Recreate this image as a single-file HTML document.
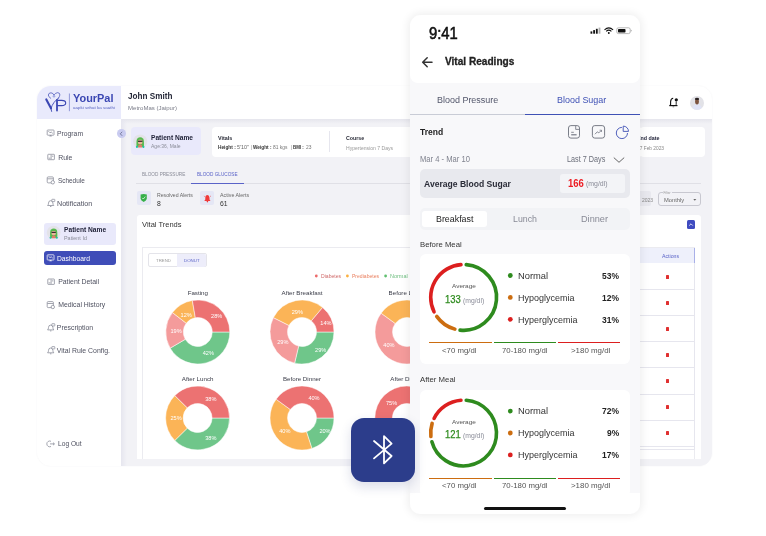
<!DOCTYPE html><html><head><meta charset="utf-8"><style>
*{margin:0;padding:0;box-sizing:border-box}
html,body{width:766px;height:536px;overflow:hidden;background:#fff}
body{position:relative;font-family:"Liberation Sans",sans-serif;-webkit-font-smoothing:antialiased}
.a{position:absolute}
.t{position:absolute;white-space:nowrap;line-height:1}
svg{position:absolute;overflow:visible}
svg text{font-family:"Liberation Sans",sans-serif}
</style></head><body><div id="root" style="position:absolute;left:0;top:0;width:766px;height:536px;will-change:transform">
<div class="a" style="left:37px;top:86px;width:675px;height:380px;background:#fff;border-radius:14px;box-shadow:0 0 2px rgba(40,40,90,.06)"></div>
<div class="a" style="left:121.2px;top:118.6px;width:590.8px;height:347px;background:#f2f2f6;border-bottom-right-radius:13px"></div>
<div class="a" style="left:121.2px;top:118.6px;width:590.8px;height:5px;background:linear-gradient(#e6e6ed,rgba(242,242,246,0))"></div>
<div class="a" style="left:121.2px;top:118.6px;width:6px;height:347px;background:linear-gradient(90deg,#e6e6ef,rgba(242,242,246,0))"></div>
<div class="a" style="left:37px;top:86px;width:84.3px;height:33px;background:#e9eafc;border-top-left-radius:14px"></div>
<svg style="left:0;top:0" width="1" height="1"><g fill="none" stroke="#3b47b3" stroke-linecap="round">
<path d="M46.3 99.4 L51 108.3" stroke-width="2.1"/>
<path d="M51 108.3 Q51.3 110 51.6 111.4" stroke-width="0.9"/>
<path d="M51 108.3 Q52.8 102.2 58.6 98" stroke-width="0.9"/>
<path d="M58.6 98 Q60.8 94.5 59.2 93.2 Q57.6 92 55.6 93.4 Q54.6 94.2 54 95.2 Q53.2 93 51 92.8 Q48.6 92.8 48.3 95 Q48.3 96.8 50.7 98.3" stroke-width="0.7"/>
<path d="M57 100 L57 110.6" stroke-width="1.8"/>
<path d="M57.4 100.4 H61.6 Q65.7 100.4 65.7 103 Q65.7 105.6 61.6 105.6 H57.6" stroke-width="1.1"/>
</g><circle cx="54" cy="96.3" r="1.3" fill="#a3abe4"/>
<line x1="69.4" y1="93.5" x2="69.4" y2="111.2" stroke="#5561c0" stroke-width="0.6"/></svg>
<div class="t" style="left:73.20px;top:92px;font-size:11.6px;color:#3b47b3;font-weight:700;transform:scaleX(0.942);transform-origin:0 0;">YourPal</div>
<div class="t" style="left:73.00px;top:106px;font-size:3.9px;color:#5561c0;font-weight:400;transform:scaleX(1.146);transform-origin:0 0;">aapki sehat ka saathi</div>
<div class="t" style="left:128.30px;top:91px;font-size:9.8px;color:#272a3a;font-weight:700;transform:scaleX(0.834);transform-origin:0 0;">John Smith</div>
<div class="t" style="left:128.30px;top:105px;font-size:6px;color:#7a7c88;font-weight:400;transform:scaleX(1.006);transform-origin:0 0;">MetroMas (Jaipur)</div>
<div class="t" style="left:56.80px;top:131px;font-size:6.9px;color:#4f5160;font-weight:400;transform:scaleX(0.986);transform-origin:0 0;">Program</div>
<svg style="left:0;top:0" width="1" height="1"><rect x="47.2" y="130.0" width="6.8" height="5.2" rx="0.6" fill="none" stroke="#858896" stroke-width="0.75"/><path d="M49.4 136.0 h2.4 M50.6 135.20000000000002 v0.8 M48.4 131.20000000000002 l1.6 1.6 l1.2 -0.8 l1.6 1.4" fill="none" stroke="#858896" stroke-width="0.75"/></svg>
<div class="t" style="left:58.20px;top:155px;font-size:6.9px;color:#4f5160;font-weight:400;">Rule</div>
<svg style="left:0;top:0" width="1" height="1"><rect x="47.8" y="154.3" width="6.6" height="5.4" rx="0.5" fill="none" stroke="#858896" stroke-width="0.75"/><path d="M51.1 154.8 v4.4 M48.6 158.2 h1.8 M52 156.2 h1.4" fill="none" stroke="#858896" stroke-width="0.75"/></svg>
<div class="t" style="left:58.20px;top:178px;font-size:6.9px;color:#4f5160;font-weight:400;transform:scaleX(0.931);transform-origin:0 0;">Schedule</div>
<svg style="left:0;top:0" width="1" height="1"><rect x="47.2" y="176.9" width="6.2" height="6" rx="1" fill="none" stroke="#858896" stroke-width="0.75"/><path d="M47.4 178.79999999999998 h5.8" fill="none" stroke="#858896" stroke-width="0.75"/><circle cx="52.8" cy="182.29999999999998" r="1.7" fill="#fff" stroke="#858896" stroke-width="0.75"/></svg>
<div class="t" style="left:56.80px;top:201px;font-size:6.9px;color:#4f5160;font-weight:400;transform:scaleX(1.032);transform-origin:0 0;">Notification</div>
<svg style="left:0;top:0" width="1" height="1"><path d="M47.6 205.5 Q48.5 204.7 48.5 203.1 Q48.5 200.7 50.7 200.7 Q52.9 200.7 52.9 203.1 Q52.9 204.7 53.8 205.5 Z M50 206.5 h1.4" fill="none" stroke="#858896" stroke-width="0.75"/><rect x="51.8" y="199.3" width="3" height="2.3" rx="0.4" fill="#fff" stroke="#858896" stroke-width="0.7"/></svg>
<div class="t" style="left:58.20px;top:279px;font-size:6.9px;color:#4f5160;font-weight:400;">Patient Detail</div>
<svg style="left:0;top:0" width="1" height="1"><rect x="47.8" y="279.0" width="6.6" height="5.4" rx="0.5" fill="none" stroke="#858896" stroke-width="0.75"/><path d="M51.1 279.5 v4.4 M48.6 282.9 h1.8 M52 280.9 h1.4" fill="none" stroke="#858896" stroke-width="0.75"/></svg>
<div class="t" style="left:58.20px;top:302px;font-size:6.9px;color:#4f5160;font-weight:400;">Medical History</div>
<svg style="left:0;top:0" width="1" height="1"><rect x="47.2" y="301.6" width="6.2" height="6" rx="1" fill="none" stroke="#858896" stroke-width="0.75"/><path d="M47.4 303.5 h5.8" fill="none" stroke="#858896" stroke-width="0.75"/><circle cx="52.8" cy="307.0" r="1.7" fill="#fff" stroke="#858896" stroke-width="0.75"/></svg>
<div class="t" style="left:56.80px;top:325px;font-size:6.9px;color:#4f5160;font-weight:400;">Prescription</div>
<svg style="left:0;top:0" width="1" height="1"><path d="M47.6 329.9 Q48.5 329.09999999999997 48.5 327.5 Q48.5 325.09999999999997 50.7 325.09999999999997 Q52.9 325.09999999999997 52.9 327.5 Q52.9 329.09999999999997 53.8 329.9 Z M50 330.9 h1.4" fill="none" stroke="#858896" stroke-width="0.75"/><rect x="51.8" y="323.7" width="3" height="2.3" rx="0.4" fill="#fff" stroke="#858896" stroke-width="0.7"/></svg>
<div class="t" style="left:56.80px;top:348px;font-size:6.9px;color:#4f5160;font-weight:400;">Vital Rule Config.</div>
<svg style="left:0;top:0" width="1" height="1"><path d="M47.6 352.8 Q48.5 352.0 48.5 350.40000000000003 Q48.5 348.0 50.7 348.0 Q52.9 348.0 52.9 350.40000000000003 Q52.9 352.0 53.8 352.8 Z M50 353.8 h1.4" fill="none" stroke="#858896" stroke-width="0.75"/><rect x="51.8" y="346.6" width="3" height="2.3" rx="0.4" fill="#fff" stroke="#858896" stroke-width="0.7"/></svg>
<div class="t" style="left:58.00px;top:441px;font-size:6.9px;color:#4f5160;font-weight:400;transform:scaleX(0.965);transform-origin:0 0;">Log Out</div>
<svg style="left:0;top:0" width="1" height="1"><path d="M51 441.29999999999995 A2.9 2.9 0 1 0 51 446.5" fill="none" stroke="#858896" stroke-width="0.75"/><path d="M50 443.9 H54.4 M53 442.59999999999997 L54.4 443.9 L53 445.2" fill="none" stroke="#858896" stroke-width="0.75"/></svg>
<div class="a" style="left:117px;top:129.3px;width:9px;height:9px;background:#c9cbf0;border-radius:50%"></div>
<svg style="left:0;top:0" width="1" height="1"><path d="M122.2 131.8 L120.3 133.8 L122.2 135.8" fill="none" stroke="#555a80" stroke-width="0.7"/></svg>
<div class="a" style="left:44.2px;top:222.9px;width:71.7px;height:22.1px;background:#e9e9fb;border-radius:3px"></div>
<svg style="left:0;top:0" width="1" height="1"><g transform="translate(46.8,225.7) scale(0.9857142857142858)"><circle cx="7" cy="7" r="7" fill="#e3e3e8"/>
<path d="M3.4 12.5 Q3 5.5 4 4.2 Q7 1.5 10 4.2 Q11 5.5 10.6 12.5 Z" fill="#57b94f"/>
<rect x="4.9" y="5.3" width="4.2" height="4.2" rx="1" fill="#eab49c"/>
<rect x="4.8" y="6.2" width="4.4" height="1.1" fill="#222"/>
<path d="M4.8 12.8 Q5 9.8 7 9.8 Q9 9.8 9.2 12.8 Z" fill="#dd7e6c"/>
<circle cx="3.8" cy="12.3" r="1" fill="#19c7a6"/><circle cx="10.2" cy="12.3" r="1" fill="#19c7a6"/></g></svg>
<div class="t" style="left:63.80px;top:227px;font-size:6.7px;color:#22243a;font-weight:700;transform:scaleX(0.994);transform-origin:0 0;">Patient Name</div>
<div class="t" style="left:63.80px;top:236px;font-size:5px;color:#8a8c98;font-weight:400;transform:scaleX(1.084);transform-origin:0 0;">Patient Id</div>
<div class="a" style="left:44.2px;top:250.5px;width:71.7px;height:14.6px;background:#3f4db8;border-radius:3px"></div>
<svg style="left:0;top:0" width="1" height="1"><rect x="47.2" y="254.79999999999998" width="6.8" height="5.2" rx="0.6" fill="none" stroke="#fff" stroke-width="0.75"/><path d="M49.4 260.8 h2.4 M50.6 260.0 v0.8 M48.4 256.0 l1.6 1.6 l1.2 -0.8 l1.6 1.4" fill="none" stroke="#fff" stroke-width="0.75"/></svg>
<div class="t" style="left:56.70px;top:256px;font-size:6.9px;color:#fff;font-weight:400;transform:scaleX(0.975);transform-origin:0 0;">Dashboard</div>
<div class="a" style="left:130.7px;top:127px;width:70.5px;height:28.4px;background:#e9e9fb;border-radius:4px"></div>
<svg style="left:0;top:0" width="1" height="1"><g transform="translate(133.1,134.4) scale(1.0142857142857142)"><circle cx="7" cy="7" r="7" fill="#e3e3e8"/>
<path d="M3.4 12.5 Q3 5.5 4 4.2 Q7 1.5 10 4.2 Q11 5.5 10.6 12.5 Z" fill="#57b94f"/>
<rect x="4.9" y="5.3" width="4.2" height="4.2" rx="1" fill="#eab49c"/>
<rect x="4.8" y="6.2" width="4.4" height="1.1" fill="#222"/>
<path d="M4.8 12.8 Q5 9.8 7 9.8 Q9 9.8 9.2 12.8 Z" fill="#dd7e6c"/>
<circle cx="3.8" cy="12.3" r="1" fill="#19c7a6"/><circle cx="10.2" cy="12.3" r="1" fill="#19c7a6"/></g></svg>
<div class="t" style="left:150.60px;top:135px;font-size:6.6px;color:#22243a;font-weight:700;transform:scaleX(1.007);transform-origin:0 0;">Patient Name</div>
<div class="t" style="left:150.60px;top:144px;font-size:5.2px;color:#8a8c98;font-weight:400;transform:scaleX(0.966);transform-origin:0 0;">Age:36, Male</div>
<div class="a" style="left:212px;top:127.3px;width:430px;height:29.4px;background:#fff;border-radius:4px"></div>
<div class="t" style="left:217.70px;top:136px;font-size:5.6px;color:#2a2c38;font-weight:700;transform:scaleX(0.970);transform-origin:0 0;">Vitals</div>
<div class="t" style="left:217.70px;top:146px;font-size:4.7px;color:#333;font-weight:700;transform:scaleX(1.018);transform-origin:0 0;">Height :</div>
<div class="t" style="left:237.00px;top:146px;font-size:4.7px;color:#666;font-weight:400;transform:scaleX(1.153);transform-origin:0 0;">5'10"</div>
<div class="a" style="left:250.5px;top:144.8px;width:0.5px;height:5.6px;background:#ccc"></div>
<div class="t" style="left:253.00px;top:146px;font-size:4.7px;color:#333;font-weight:700;transform:scaleX(1.008);transform-origin:0 0;">Weight :</div>
<div class="t" style="left:273.00px;top:146px;font-size:4.7px;color:#777;font-weight:400;transform:scaleX(1.040);transform-origin:0 0;">81 kgs</div>
<div class="a" style="left:290.7px;top:144.8px;width:0.5px;height:5.6px;background:#ccc"></div>
<div class="t" style="left:293.20px;top:146px;font-size:4.7px;color:#333;font-weight:700;transform:scaleX(0.940);transform-origin:0 0;">BMI :</div>
<div class="t" style="left:306.00px;top:146px;font-size:4.7px;color:#777;font-weight:400;transform:scaleX(1.035);transform-origin:0 0;">23</div>
<div class="a" style="left:328.6px;top:131.4px;width:0.6px;height:20.6px;background:#e6e6ee"></div>
<div class="t" style="left:345.60px;top:136px;font-size:5.6px;color:#2a2c38;font-weight:700;transform:scaleX(0.943);transform-origin:0 0;">Course</div>
<div class="t" style="left:345.60px;top:147px;font-size:4.7px;color:#999;font-weight:400;transform:scaleX(1.084);transform-origin:0 0;">Hypertension 7 Days</div>
<div class="a" style="left:640px;top:127.3px;width:65.4px;height:29.8px;background:#fff;border-radius:4px"></div>
<div class="t" style="left:637.00px;top:136px;font-size:5.8px;color:#22243a;font-weight:700;transform:scaleX(0.914);transform-origin:0 0;">End date</div>
<div class="t" style="left:636.50px;top:147px;font-size:4.7px;color:#888;font-weight:400;transform:scaleX(1.027);transform-origin:0 0;">17 Feb 2023</div>
<div class="a" style="left:136.3px;top:183px;width:564.7px;height:0.7px;background:#e0e0e6"></div>
<div class="t" style="left:142.00px;top:172px;font-size:5px;color:#8a8c98;font-weight:400;transform:scaleX(0.933);transform-origin:0 0;">BLOOD PRESSURE</div>
<div class="t" style="left:196.80px;top:172px;font-size:5px;color:#5a63c8;font-weight:400;transform:scaleX(0.937);transform-origin:0 0;">BLOOD GLUCOSE</div>
<div class="a" style="left:191.2px;top:182.6px;width:52.6px;height:1.3px;background:#5a63c8"></div>
<div class="a" style="left:136.9px;top:190.9px;width:13.8px;height:13.9px;background:#e5e7f5;border-radius:2px"></div>
<div class="a" style="left:200.4px;top:190.9px;width:13.6px;height:13.9px;background:#e5e7f5;border-radius:2px"></div>
<svg style="left:0;top:0" width="1" height="1"><path d="M140.6 194.6 Q143.7 193.6 146.8 194.6 L146.8 198.8 Q146.5 200.8 143.7 202 Q140.9 200.8 140.6 198.8 Z" fill="#37b04a"/>
<path d="M142.2 197.9 L143.3 199 L145.3 196.6" fill="none" stroke="#fff" stroke-width="0.7"/>
<path d="M204.3 201 L205.3 199.6 L205.3 197.8 Q205.4 195 207.4 195 Q209.4 195 209.5 197.8 L209.5 199.6 L210.5 201 Z" fill="#f03a3a"/>
<circle cx="207.4" cy="201.6" r="0.8" fill="#f03a3a"/><path d="M203.9 196 l0.9 0.6 M210.9 196 l-0.9 0.6" stroke="#f03a3a" stroke-width="0.6"/></svg>
<div class="t" style="left:156.90px;top:193px;font-size:5px;color:#666;font-weight:400;transform:scaleX(1.033);transform-origin:0 0;">Resolved Alerts</div>
<div class="t" style="left:156.90px;top:201px;font-size:6.8px;color:#333;font-weight:400;">8</div>
<div class="t" style="left:220.00px;top:193px;font-size:5px;color:#666;font-weight:400;transform:scaleX(1.055);transform-origin:0 0;">Active Alerts</div>
<div class="t" style="left:220.00px;top:201px;font-size:6.8px;color:#333;font-weight:400;">61</div>
<div class="a" style="left:620px;top:191.3px;width:30.5px;height:15px;background:#e8e8ee;border-radius:2px"></div>
<div class="t" style="left:642.00px;top:198px;font-size:5px;color:#888;font-weight:400;">2023</div>
<div class="a" style="left:658.4px;top:192px;width:42.2px;height:14.3px;border:0.7px solid #c8c8d0;border-radius:3px"></div>
<div class="a" style="left:662.5px;top:191.3px;width:9px;height:1.5px;background:#f0f0f5"></div>
<div class="t" style="left:663.80px;top:197px;font-size:6px;color:#666;font-weight:400;transform:scaleX(0.962);transform-origin:0 0;">Monthly</div>
<div class="t" style="left:663.50px;top:192px;font-size:3.2px;color:#999;font-weight:400;">Filter</div>
<svg style="left:0;top:0" width="1" height="1"><path d="M693.3 199 L696.3 199 L694.8 200.8 Z" fill="#666"/></svg>
<div class="a" style="left:136.9px;top:214.8px;width:564.1px;height:244.3px;background:#fff;border-radius:3px 3px 0 0"></div>
<div class="t" style="left:142.40px;top:221px;font-size:7.4px;color:#333;font-weight:400;transform:scaleX(1.017);transform-origin:0 0;">Vital Trends</div>
<div class="a" style="left:686.7px;top:220px;width:8.7px;height:9px;background:#3f4bc0;border-radius:1.5px"></div>
<svg style="left:0;top:0" width="1" height="1"><path d="M689.2 225.6 L691 223.8 L692.8 225.6" fill="none" stroke="#fff" stroke-width="0.8"/></svg>
<div class="a" style="left:142.4px;top:247.3px;width:552.6px;height:211.8px;border:0.7px solid #ebebf0;border-bottom:none"></div>
<div class="a" style="left:148.3px;top:253.1px;width:58.4px;height:14.4px;border:0.7px solid #e4e4ea;border-radius:2px;background:#fff"></div>
<div class="a" style="left:176.9px;top:253.6px;width:29.3px;height:13.6px;background:#ededfa;border-radius:0 2px 2px 0"></div>
<div class="t" style="left:155.60px;top:259px;font-size:4.4px;color:#999;font-weight:400;transform:scaleX(0.990);transform-origin:0 0;">TREND</div>
<div class="t" style="left:184.00px;top:259px;font-size:4.4px;color:#5a63c8;font-weight:400;transform:scaleX(0.997);transform-origin:0 0;">DONUT</div>
<svg style="left:0;top:0" width="1" height="1"><circle cx="316.3" cy="276" r="1.4" fill="#ec6a6a"/><circle cx="347.4" cy="276" r="1.4" fill="#fbb040"/><circle cx="385.6" cy="276" r="1.4" fill="#5fbf6f"/></svg>
<div class="t" style="left:320.90px;top:274px;font-size:5.5px;color:#d06a6a;font-weight:400;transform:scaleX(0.926);transform-origin:0 0;">Diabetes</div>
<div class="t" style="left:352.00px;top:274px;font-size:5.5px;color:#ea8060;font-weight:400;transform:scaleX(0.920);transform-origin:0 0;">Prediabetes</div>
<div class="t" style="left:390.00px;top:274px;font-size:5.5px;color:#6fbf80;font-weight:400;transform:scaleX(0.998);transform-origin:0 0;">Normal</div>
<div class="a" style="left:628px;top:248px;width:66.5px;height:15.3px;background:#eef0fb;border-right:1px solid #a9b0e8"></div>
<div class="t" style="left:661.70px;top:255px;font-size:4.6px;color:#5a63c8;font-weight:400;transform:scaleX(1.133);transform-origin:0 0;">Actions</div>
<div class="a" style="left:628px;top:289.3px;width:66.5px;height:0.6px;background:#e6e6ee"></div>
<div class="a" style="left:665.8px;top:274.8px;width:3px;height:4px;background:#e03030;border-radius:0.6px"></div>
<div class="a" style="left:628px;top:315.35px;width:66.5px;height:0.6px;background:#e6e6ee"></div>
<div class="a" style="left:665.8px;top:300.85px;width:3px;height:4px;background:#e03030;border-radius:0.6px"></div>
<div class="a" style="left:628px;top:341.40000000000003px;width:66.5px;height:0.6px;background:#e6e6ee"></div>
<div class="a" style="left:665.8px;top:326.90000000000003px;width:3px;height:4px;background:#e03030;border-radius:0.6px"></div>
<div class="a" style="left:628px;top:367.45000000000005px;width:66.5px;height:0.6px;background:#e6e6ee"></div>
<div class="a" style="left:665.8px;top:352.95000000000005px;width:3px;height:4px;background:#e03030;border-radius:0.6px"></div>
<div class="a" style="left:628px;top:393.5px;width:66.5px;height:0.6px;background:#e6e6ee"></div>
<div class="a" style="left:665.8px;top:379.0px;width:3px;height:4px;background:#e03030;border-radius:0.6px"></div>
<div class="a" style="left:628px;top:419.55px;width:66.5px;height:0.6px;background:#e6e6ee"></div>
<div class="a" style="left:665.8px;top:405.05px;width:3px;height:4px;background:#e03030;border-radius:0.6px"></div>
<div class="a" style="left:628px;top:445.6px;width:66.5px;height:0.6px;background:#e6e6ee"></div>
<div class="a" style="left:665.8px;top:431.1px;width:3px;height:4px;background:#e03030;border-radius:0.6px"></div>
<div class="a" style="left:628px;top:449.3px;width:66.5px;height:0.6px;background:#e6e6ee"></div>
<div class="a" style="left:694px;top:263.3px;width:0.6px;height:186px;background:#e6e6ee"></div>
<svg style="left:0;top:0" width="1" height="1"><path d="M229.80 332.00A32 32 0 0 1 170.17 348.14L185.28 339.32A14.5 14.5 0 0 0 212.30 332.00Z" fill="#6fc68a" stroke="#fff" stroke-width="0.5"/><path d="M170.17 348.14A32 32 0 0 1 172.39 312.55L186.28 323.19A14.5 14.5 0 0 0 185.28 339.32Z" fill="#f49b9b" stroke="#fff" stroke-width="0.5"/><path d="M172.39 312.55A32 32 0 0 1 192.35 300.47L195.33 317.71A14.5 14.5 0 0 0 186.28 323.19Z" fill="#fbb457" stroke="#fff" stroke-width="0.5"/><path d="M192.35 300.47A32 32 0 0 1 229.80 332.00L212.30 332.00A14.5 14.5 0 0 0 195.33 317.71Z" fill="#ec7272" stroke="#fff" stroke-width="0.5"/><text x="216.7" y="318.0" text-anchor="middle" font-size="5.6" fill="#fff">28%</text><text x="208.3" y="355.2" text-anchor="middle" font-size="5.6" fill="#fff">42%</text><text x="176.1" y="333.4" text-anchor="middle" font-size="5.6" fill="#fff">19%</text><text x="186.2" y="316.5" text-anchor="middle" font-size="5.6" fill="#fff">12%</text><text x="197.8" y="294.9" text-anchor="middle" font-size="6.2" fill="#3a3c48">Fasting</text><path d="M334.00 332.00A32 32 0 0 1 294.60 363.13L298.65 346.11A14.5 14.5 0 0 0 316.50 332.00Z" fill="#6fc68a" stroke="#fff" stroke-width="0.5"/><path d="M294.60 363.13A32 32 0 0 1 273.42 317.61L289.05 325.48A14.5 14.5 0 0 0 298.65 346.11Z" fill="#f49b9b" stroke="#fff" stroke-width="0.5"/><path d="M273.42 317.61A32 32 0 0 1 322.61 307.52L311.34 320.91A14.5 14.5 0 0 0 289.05 325.48Z" fill="#fbb457" stroke="#fff" stroke-width="0.5"/><path d="M322.61 307.52A32 32 0 0 1 334.00 332.00L316.50 332.00A14.5 14.5 0 0 0 311.34 320.91Z" fill="#ec7272" stroke="#fff" stroke-width="0.5"/><text x="325.9" y="325.4" text-anchor="middle" font-size="5.6" fill="#fff">14%</text><text x="320.7" y="351.5" text-anchor="middle" font-size="5.6" fill="#fff">29%</text><text x="282.8" y="343.9" text-anchor="middle" font-size="5.6" fill="#fff">29%</text><text x="297.3" y="313.9" text-anchor="middle" font-size="5.6" fill="#fff">29%</text><text x="302" y="294.9" text-anchor="middle" font-size="6.2" fill="#3a3c48">After Breakfast</text><path d="M439.00 332.00A32 32 0 0 1 416.89 362.43L411.48 345.79A14.5 14.5 0 0 0 421.50 332.00Z" fill="#6fc68a" stroke="#fff" stroke-width="0.5"/><path d="M416.89 362.43A32 32 0 0 1 381.11 313.19L395.27 323.48A14.5 14.5 0 0 0 411.48 345.79Z" fill="#f49b9b" stroke="#fff" stroke-width="0.5"/><path d="M381.11 313.19A32 32 0 0 1 416.89 301.57L411.48 318.21A14.5 14.5 0 0 0 395.27 323.48Z" fill="#fbb457" stroke="#fff" stroke-width="0.5"/><path d="M416.89 301.57A32 32 0 0 1 439.00 332.00L421.50 332.00A14.5 14.5 0 0 0 411.48 318.21Z" fill="#ec7272" stroke="#fff" stroke-width="0.5"/><text x="388.9" y="346.9" text-anchor="middle" font-size="5.6" fill="#fff">40%</text><text x="407" y="294.9" text-anchor="middle" font-size="6.2" fill="#3a3c48">Before Lunch</text><path d="M229.60 418.00A32 32 0 0 1 174.80 440.45L187.27 428.17A14.5 14.5 0 0 0 212.10 418.00Z" fill="#6fc68a" stroke="#fff" stroke-width="0.5"/><path d="M174.80 440.45A32 32 0 0 1 174.80 395.55L187.27 407.83A14.5 14.5 0 0 0 187.27 428.17Z" fill="#fbb457" stroke="#fff" stroke-width="0.5"/><path d="M174.80 395.55A32 32 0 0 1 229.60 418.00L212.10 418.00A14.5 14.5 0 0 0 187.27 407.83Z" fill="#ec7272" stroke="#fff" stroke-width="0.5"/><text x="210.8" y="400.5" text-anchor="middle" font-size="5.6" fill="#fff">38%</text><text x="210.8" y="440.0" text-anchor="middle" font-size="5.6" fill="#fff">38%</text><text x="176.1" y="420.2" text-anchor="middle" font-size="5.6" fill="#fff">25%</text><text x="197.6" y="380.9" text-anchor="middle" font-size="6.2" fill="#3a3c48">After Lunch</text><path d="M334.00 418.00A32 32 0 0 1 311.89 448.43L306.48 431.79A14.5 14.5 0 0 0 316.50 418.00Z" fill="#6fc68a" stroke="#fff" stroke-width="0.5"/><path d="M311.89 448.43A32 32 0 0 1 276.11 399.19L290.27 409.48A14.5 14.5 0 0 0 306.48 431.79Z" fill="#fbb457" stroke="#fff" stroke-width="0.5"/><path d="M276.11 399.19A32 32 0 0 1 334.00 418.00L316.50 418.00A14.5 14.5 0 0 0 290.27 409.48Z" fill="#ec7272" stroke="#fff" stroke-width="0.5"/><text x="314.0" y="399.9" text-anchor="middle" font-size="5.6" fill="#fff">40%</text><text x="325.0" y="432.8" text-anchor="middle" font-size="5.6" fill="#fff">20%</text><text x="284.8" y="432.8" text-anchor="middle" font-size="5.6" fill="#fff">40%</text><text x="302" y="380.9" text-anchor="middle" font-size="6.2" fill="#3a3c48">Before Dinner</text><path d="M438.85 418.00A32 32 0 0 1 406.85 450.00L406.85 432.50A14.5 14.5 0 0 0 421.35 418.00Z" fill="#6fc68a" stroke="#fff" stroke-width="0.5"/><path d="M406.85 450.00A32 32 0 1 1 438.85 418.00L421.35 418.00A14.5 14.5 0 1 0 406.85 432.50Z" fill="#ec7272" stroke="#fff" stroke-width="0.5"/><text x="391.6" y="404.9" text-anchor="middle" font-size="5.6" fill="#fff">75%</text><text x="406.85" y="380.9" text-anchor="middle" font-size="6.2" fill="#3a3c48">After Dinner</text></svg>
<div class="a" style="left:690px;top:95.6px;width:14px;height:14px;background:#e2e2e7;border-radius:50%"></div>
<svg style="left:0;top:0" width="1" height="1"><path d="M692.3 108 Q693 104.6 697 104.3 Q701 104.6 701.7 108 Q699.5 109.7 697 109.7 Q694.5 109.7 692.3 108 Z" fill="#dfe3f6"/><ellipse cx="697" cy="101.6" rx="1.9" ry="3" fill="#7d5440"/><ellipse cx="697" cy="98.9" rx="2.1" ry="1.2" fill="#2a2222"/>
<path d="M670 105.5 L670.6 104.6 L670.6 101.6 Q670.8 98.6 673.2 98.3" fill="none" stroke="#111" stroke-width="1.1"/><path d="M676.2 101.5 L676.2 104.6 L676.8 105.5" fill="none" stroke="#111" stroke-width="0.9"/><path d="M669.3 105.6 H677.4" stroke="#111" stroke-width="1.2"/><circle cx="676.3" cy="99.8" r="1.6" fill="#111"/><path d="M672.6 106.8 h1.6" stroke="#555" stroke-width="0.7"/></svg>
<div class="a" style="left:410px;top:15px;width:230px;height:499px;background:#f8f8fa;border-radius:11px;box-shadow:0 0 8px 2px rgba(0,0,0,.065)"></div>
<div class="a" style="left:410px;top:15px;width:230px;height:68px;background:#fff;border-radius:11px 11px 8px 8px"></div>
<div class="t" style="left:429.20px;top:26px;font-size:15.6px;color:#111;font-weight:400;transform:scaleX(0.949);transform-origin:0 0;-webkit-text-stroke:0.55px #111;">9:41</div>
<svg style="left:0;top:0" width="1" height="1"><rect x="590.5" y="31.4" width="1.8" height="2.3" fill="#111"/><rect x="593.2" y="30.1" width="1.8" height="3.6" fill="#111"/><rect x="595.9" y="28.8" width="1.8" height="4.9" fill="#111"/><rect x="598.6" y="27.6" width="1.8" height="6.1" fill="#b0b0b0"/>
<path d="M604.5 29.8 Q608.8 25.8 613.1 29.8" fill="none" stroke="#111" stroke-width="1.1"/><path d="M606.2 31.4 Q608.8 29 611.4 31.4" fill="none" stroke="#111" stroke-width="1.1"/><circle cx="608.8" cy="33" r="0.95" fill="#111"/>
<rect x="616.8" y="27.8" width="13.4" height="5.8" rx="1.6" fill="none" stroke="#999" stroke-width="0.7"/><rect x="618" y="29" width="7.5" height="3.4" rx="0.7" fill="#111"/><path d="M630.9 29.6 L631.8 30.7 L630.9 31.8Z" fill="#999"/>
<path d="M432 62.3 L423 62.3 M427.2 57.8 L422.7 62.3 L427.2 66.8" fill="none" stroke="#333" stroke-width="1.5" stroke-linejoin="round" stroke-linecap="round"/></svg>
<div class="t" style="left:444.50px;top:56px;font-size:10.6px;color:#222;font-weight:700;transform:scaleX(0.952);transform-origin:0 0;-webkit-text-stroke:0.3px #222;">Vital Readings</div>
<div class="t" style="left:436.70px;top:95px;font-size:9.6px;color:#52566a;font-weight:400;transform:scaleX(0.934);transform-origin:0 0;">Blood Pressure</div>
<div class="t" style="left:557.30px;top:95px;font-size:9.6px;color:#3f51b5;font-weight:400;transform:scaleX(0.933);transform-origin:0 0;">Blood Sugar</div>
<div class="a" style="left:410px;top:114.2px;width:230px;height:0.8px;background:#c9ccd6"></div>
<div class="a" style="left:525px;top:113.8px;width:115px;height:1.6px;background:#3f51b5"></div>
<div class="t" style="left:420.00px;top:128px;font-size:9px;color:#222;font-weight:700;transform:scaleX(0.946);transform-origin:0 0;">Trend</div>
<svg style="left:0;top:0" width="1" height="1"><rect x="568.5" y="125.6" width="11" height="12.5" rx="2.4" fill="none" stroke="#6b6f7b" stroke-width="0.9"/>
<path d="M575.7 126 V129.4 H579.2" fill="none" stroke="#6b6f7b" stroke-width="0.8"/>
<path d="M571.2 132.3 h2.6" stroke="#6b6f7b" stroke-width="0.8"/><path d="M571.2 134.8 h5.4" stroke="#6b6f7b" stroke-width="1.1"/>
<rect x="592.4" y="125.6" width="12.2" height="12.5" rx="2.4" fill="none" stroke="#6b6f7b" stroke-width="0.9"/>
<path d="M595 134.2 L597.3 131.8 L598.8 132.9 L601.3 130.4" fill="none" stroke="#6b6f7b" stroke-width="0.8"/><path d="M599.6 130.2 L601.5 130.2 L601.5 132" fill="none" stroke="#6b6f7b" stroke-width="0.7"/>
<path d="M621.9 127.4 A5.6 5.6 0 1 0 627.5 133" fill="none" stroke="#3f51b5" stroke-width="0.9"/>
<path d="M623.2 126.1 A5.3 5.3 0 0 1 628.5 131.4 L623.2 131.4 Z" fill="none" stroke="#3f51b5" stroke-width="0.9"/>
<path d="M613.8 157.6 L619 162.3 L624.2 157.6" fill="none" stroke="#555" stroke-width="0.9"/></svg>
<div class="t" style="left:420.00px;top:156px;font-size:8.2px;color:#80838f;font-weight:400;transform:scaleX(0.930);transform-origin:0 0;">Mar 4 - Mar 10</div>
<div class="t" style="left:566.70px;top:156px;font-size:8.2px;color:#6b6e7a;font-weight:400;transform:scaleX(0.885);transform-origin:0 0;">Last 7 Days</div>
<div class="a" style="left:419.6px;top:169px;width:210.4px;height:29.4px;background:#e8e9ee;border-radius:5px"></div>
<div class="a" style="left:560px;top:174px;width:64.7px;height:19px;background:#f3f4f7;border-radius:3px"></div>
<div class="t" style="left:424.40px;top:179px;font-size:9.4px;color:#2a2c38;font-weight:700;transform:scaleX(0.915);transform-origin:0 0;">Average Blood Sugar</div>
<div class="t" style="left:567.70px;top:178px;font-size:10.6px;color:#ec1d24;font-weight:700;transform:scaleX(0.898);transform-origin:0 0;">166</div>
<div class="t" style="left:585.70px;top:181px;font-size:6.4px;color:#8a8c98;font-weight:400;transform:scaleX(1.085);transform-origin:0 0;">(mg/dl)</div>
<div class="a" style="left:420px;top:208px;width:210px;height:21.7px;background:#f2f3f6;border-radius:5px"></div>
<div class="a" style="left:422px;top:211px;width:65px;height:16px;background:#fff;border-radius:3px"></div>
<div class="t" style="left:435.50px;top:215px;font-size:9.2px;color:#222;font-weight:400;transform:scaleX(0.965);transform-origin:0 0;">Breakfast</div>
<div class="t" style="left:512.70px;top:215px;font-size:9.2px;color:#888a96;font-weight:400;transform:scaleX(0.957);transform-origin:0 0;">Lunch</div>
<div class="t" style="left:581.00px;top:215px;font-size:9.2px;color:#888a96;font-weight:400;transform:scaleX(0.997);transform-origin:0 0;">Dinner</div>
<div class="t" style="left:419.70px;top:241px;font-size:7.6px;color:#333;font-weight:400;transform:scaleX(1.018);transform-origin:0 0;">Before Meal</div>
<div class="a" style="left:419.7px;top:254px;width:210.3px;height:109.5px;background:#fff;border-radius:6px"></div>
<svg style="left:0;top:0" width="1" height="1"><path d="M466.24 264.61A32.9 32.9 0 1 1 460.05 330.11" fill="none" stroke="#2e8b1e" stroke-width="3.6" stroke-linecap="round"/><path d="M454.86 329.12A32.9 32.9 0 0 1 436.72 316.36" fill="none" stroke="#cc6d10" stroke-width="3.6" stroke-linecap="round"/><path d="M434.03 311.82A32.9 32.9 0 0 1 460.96 264.61" fill="none" stroke="#dc1f1f" stroke-width="3.6" stroke-linecap="round"/></svg>
<div class="t" style="left:452.00px;top:283px;font-size:6px;color:#555;font-weight:400;transform:scaleX(1.071);transform-origin:0 0;">Average</div>
<div class="t" style="left:445.10px;top:295px;font-size:10.2px;color:#2e8b1e;font-weight:400;transform:scaleX(0.928);transform-origin:0 0;-webkit-text-stroke:0.25px #2e8b1e;">133</div>
<div class="t" style="left:462.80px;top:298px;font-size:6.4px;color:#8a8c98;font-weight:400;transform:scaleX(1.065);transform-origin:0 0;">(mg/dl)</div>
<svg style="left:0;top:0" width="1" height="1"><circle cx="510.3" cy="275.5" r="2.4" fill="#2e8b1e"/></svg>
<div class="t" style="left:518.00px;top:272px;font-size:9.2px;color:#333;font-weight:400;transform:scaleX(1.018);transform-origin:0 0;">Normal</div>
<div class="t" style="left:602.47px;top:272px;font-size:9.2px;color:#222;font-weight:700;transform:scaleX(0.920);transform-origin:0 0;">53%</div>
<svg style="left:0;top:0" width="1" height="1"><circle cx="510.3" cy="297.4" r="2.4" fill="#cc6d10"/></svg>
<div class="t" style="left:518.00px;top:294px;font-size:9.2px;color:#333;font-weight:400;transform:scaleX(0.977);transform-origin:0 0;">Hypoglycemia</div>
<div class="t" style="left:602.47px;top:294px;font-size:9.2px;color:#222;font-weight:700;transform:scaleX(0.920);transform-origin:0 0;">12%</div>
<svg style="left:0;top:0" width="1" height="1"><circle cx="510.3" cy="319.3" r="2.4" fill="#dc1f1f"/></svg>
<div class="t" style="left:518.00px;top:316px;font-size:9.2px;color:#333;font-weight:400;transform:scaleX(0.978);transform-origin:0 0;">Hyperglycemia</div>
<div class="t" style="left:602.47px;top:316px;font-size:9.2px;color:#222;font-weight:700;transform:scaleX(0.920);transform-origin:0 0;">31%</div>
<div class="a" style="left:429.4px;top:341.9px;width:62.6px;height:1px;background:#cc6d10"></div>
<div class="a" style="left:493.5px;top:341.9px;width:62.6px;height:1px;background:#2e8b1e"></div>
<div class="a" style="left:557.6px;top:341.9px;width:62.7px;height:1px;background:#dc1f1f"></div>
<div class="t" style="left:441.50px;top:347px;font-size:7.4px;color:#555;font-weight:400;transform:scaleX(1.055);transform-origin:0 0;">&lt;70 mg/dl</div>
<div class="t" style="left:502.30px;top:347px;font-size:7.4px;color:#555;font-weight:400;transform:scaleX(1.054);transform-origin:0 0;">70-180 mg/dl</div>
<div class="t" style="left:571.00px;top:347px;font-size:7.4px;color:#555;font-weight:400;transform:scaleX(1.070);transform-origin:0 0;">&gt;180 mg/dl</div>
<div class="t" style="left:419.70px;top:376px;font-size:7.6px;color:#333;font-weight:400;transform:scaleX(1.025);transform-origin:0 0;">After Meal</div>
<div class="a" style="left:419.7px;top:389.5px;width:210.3px;height:107.5px;background:#fff;border-radius:6px"></div>
<svg style="left:0;top:0" width="1" height="1"><path d="M466.24 400.21A32.9 32.9 0 1 1 431.88 441.74" fill="none" stroke="#2e8b1e" stroke-width="3.6" stroke-linecap="round"/><path d="M430.89 436.55A32.9 32.9 0 0 1 432.14 423.38" fill="none" stroke="#cc6d10" stroke-width="3.6" stroke-linecap="round"/><path d="M434.08 418.47A32.9 32.9 0 0 1 460.96 400.21" fill="none" stroke="#dc1f1f" stroke-width="3.6" stroke-linecap="round"/></svg>
<div class="t" style="left:452.00px;top:419px;font-size:6px;color:#555;font-weight:400;transform:scaleX(1.071);transform-origin:0 0;">Average</div>
<div class="t" style="left:445.10px;top:430px;font-size:10.2px;color:#2e8b1e;font-weight:400;transform:scaleX(0.928);transform-origin:0 0;-webkit-text-stroke:0.25px #2e8b1e;">121</div>
<div class="t" style="left:462.80px;top:433px;font-size:6.4px;color:#8a8c98;font-weight:400;transform:scaleX(1.065);transform-origin:0 0;">(mg/dl)</div>
<svg style="left:0;top:0" width="1" height="1"><circle cx="510.3" cy="411.1" r="2.4" fill="#2e8b1e"/></svg>
<div class="t" style="left:518.00px;top:407px;font-size:9.2px;color:#333;font-weight:400;transform:scaleX(1.018);transform-origin:0 0;">Normal</div>
<div class="t" style="left:602.47px;top:407px;font-size:9.2px;color:#222;font-weight:700;transform:scaleX(0.920);transform-origin:0 0;">72%</div>
<svg style="left:0;top:0" width="1" height="1"><circle cx="510.3" cy="433.0" r="2.4" fill="#cc6d10"/></svg>
<div class="t" style="left:518.00px;top:429px;font-size:9.2px;color:#333;font-weight:400;transform:scaleX(0.977);transform-origin:0 0;">Hypoglycemia</div>
<div class="t" style="left:607.17px;top:429px;font-size:9.2px;color:#222;font-weight:700;transform:scaleX(0.920);transform-origin:0 0;">9%</div>
<svg style="left:0;top:0" width="1" height="1"><circle cx="510.3" cy="454.9" r="2.4" fill="#dc1f1f"/></svg>
<div class="t" style="left:518.00px;top:451px;font-size:9.2px;color:#333;font-weight:400;transform:scaleX(0.978);transform-origin:0 0;">Hyperglycemia</div>
<div class="t" style="left:602.47px;top:451px;font-size:9.2px;color:#222;font-weight:700;transform:scaleX(0.920);transform-origin:0 0;">17%</div>
<div class="a" style="left:429.4px;top:477.5px;width:62.6px;height:1px;background:#cc6d10"></div>
<div class="a" style="left:493.5px;top:477.5px;width:62.6px;height:1px;background:#2e8b1e"></div>
<div class="a" style="left:557.6px;top:477.5px;width:62.7px;height:1px;background:#dc1f1f"></div>
<div class="t" style="left:441.50px;top:482px;font-size:7.4px;color:#555;font-weight:400;transform:scaleX(1.055);transform-origin:0 0;">&lt;70 mg/dl</div>
<div class="t" style="left:502.30px;top:482px;font-size:7.4px;color:#555;font-weight:400;transform:scaleX(1.054);transform-origin:0 0;">70-180 mg/dl</div>
<div class="t" style="left:571.00px;top:482px;font-size:7.4px;color:#555;font-weight:400;transform:scaleX(1.070);transform-origin:0 0;">&gt;180 mg/dl</div>
<div class="a" style="left:410px;top:493.3px;width:230px;height:20.7px;background:#fff;border-radius:0 0 10px 10px"></div>
<div class="a" style="left:484px;top:506.8px;width:82px;height:2.8px;background:#111;border-radius:2px"></div>
<div class="a" style="left:351px;top:417.6px;width:64px;height:64.3px;background:#2c3d8b;border-radius:13px;box-shadow:0 5px 12px rgba(40,50,120,.16)"></div>
<svg style="left:0;top:0" width="1" height="1"><path d="M374 441 L391.6 456 L384 463.4 L384 436.2 L391.6 443.6 L374 458.4" fill="none" stroke="#fff" stroke-width="1.8" stroke-linejoin="round" stroke-linecap="round"/></svg>
</div></body></html>
